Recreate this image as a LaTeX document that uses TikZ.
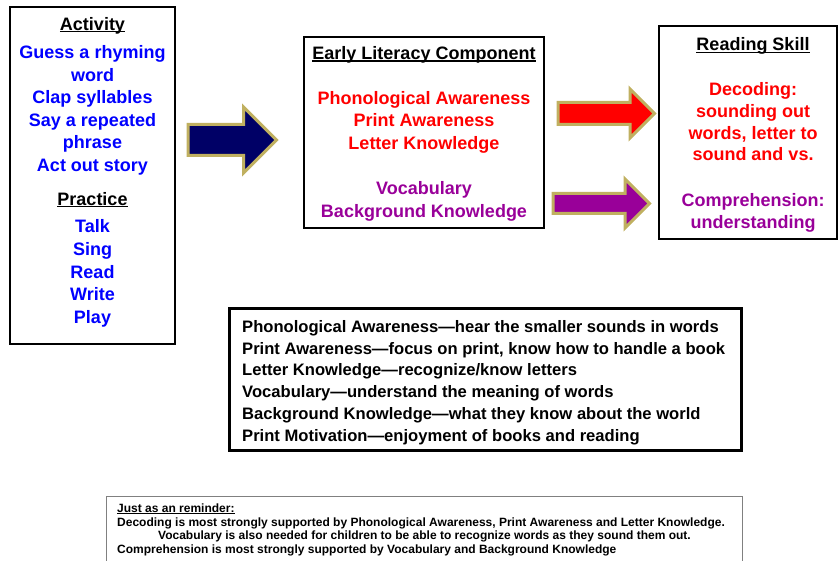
\documentclass[tikz,border=0pt]{standalone}
\usepackage{fontspec}
\setmainfont{Liberation Sans}
\usepackage{xcolor}
\usepackage{tikz}
\usetikzlibrary{positioning,shapes.arrows}

\definecolor{navyfill}{HTML}{000066}
\definecolor{arrowrim}{HTML}{C0B060}
\definecolor{litblue}{HTML}{0000FF}
\definecolor{litred}{HTML}{FF0000}
\definecolor{litpurple}{HTML}{990099}
\definecolor{remindgray}{HTML}{808080}

\newcommand{\ulhead}[1]{\setbox0\hbox{#1}\rlap{\rule[-0.12em]{\wd0}{0.075em}}\box0}

\begin{document}
\begin{tikzpicture}[x=1pt,y=-1pt,
    box/.style={draw=black, line width=2pt, inner sep=0pt},
    txt/.style={inner sep=0pt, align=center, font=\fontsize{18}{22.5}\selectfont\bfseries},
    blockarrow/.style={single arrow, draw=arrowrim, line width=3pt, inner xsep=0pt,
        single arrow tip angle=90, single arrow head indent=0pt, anchor=tail}]
    \clip (0,0) rectangle (840,561);

    % Boxes
    \node[box, minimum width=165, minimum height=337] (activity) at (92.5,175.5) {};
    \node[box, minimum width=240, minimum height=191] (component) at (424,132.5) {};
    \node[box, minimum width=178, minimum height=213] (skill) at (748,132.5) {};
    \node[box, line width=3pt, minimum width=512, minimum height=142] (defs) at (485.5,379.5) {};
    \node[draw=remindgray, line width=1pt, inner sep=0pt, anchor=north west,
        minimum width=636, minimum height=90] (reminder) at (105.5,495.5) {};

    % Block arrows (shaft width = 2 x inner ysep)
    \node[blockarrow, fill=navyfill, minimum height=88.5, inner ysep=14pt,
        single arrow head extend=17.5] (toComponent) at (186.5,140) {};
    \node[blockarrow, fill=litred, minimum height=96.5, inner ysep=9.5pt,
        single arrow head extend=13.5] (toDecoding) at (556.5,113.5) {};
    \node[blockarrow, fill=litpurple, minimum height=96.5, inner ysep=8.5pt,
        single arrow head extend=14.5] (toComprehension) at (551.5,203.5) {};

    % Activity and practice (anchored at the last line)
    \node[txt, text=litblue, anchor=base] (activitytxt) at (92.5,323) {%
        \textcolor{black}{\ulhead{Activity}}\\[6.5pt]
        Guess a rhyming\\ word\\ Clap syllables\\ Say a repeated\\ phrase\\ Act out story\\[11pt]
        \textcolor{black}{\ulhead{Practice}}\\[5.5pt]
        Talk\\ Sing\\ Read\\ Write\\ Play};

    % Early literacy components
    \node[txt, anchor=base] (componenttxt) at (424,217.5) {%
        \ulhead{Early Literacy Component}\\[22.5pt]
        \textcolor{litred}{Phonological Awareness}\\
        \textcolor{litred}{Print Awareness}\\
        \textcolor{litred}{Letter Knowledge}\\[23pt]
        \textcolor{litpurple}{Vocabulary}\\
        \textcolor{litpurple}{Background Knowledge}};

    % Reading skills
    \node[txt, font=\fontsize{18}{21.8}\selectfont\bfseries, anchor=base] (skilltxt) at (753,228.5) {%
        \ulhead{Reading Skill}\\[22.7pt]
        \textcolor{litred}{Decoding:}\\
        \textcolor{litred}{sounding out}\\
        \textcolor{litred}{words, letter to}\\
        \textcolor{litred}{sound and vs.}\\[24pt]
        \textcolor{litpurple}{Comprehension:}\\
        \textcolor{litpurple}{understanding}};

    % Definitions
    \node[txt, align=left, font=\fontsize{16.6}{21.7}\selectfont\bfseries, anchor=base west] (defstxt) at (242,441) {%
        Phonological Awareness—hear the smaller sounds in words\\
        Print Awareness—focus on print, know how to handle a book\\
        Letter Knowledge—recognize/know letters\\
        Vocabulary—understand the meaning of words\\
        Background Knowledge—what they know about the world\\
        Print Motivation—enjoyment of books and reading};

    % Reminder
    \node[txt, align=left, font=\fontsize{12}{13.4}\selectfont\bfseries, anchor=base west] (remindertxt) at (117,553) {%
        \ulhead{Just as an reminder:}\\
        Decoding is most strongly supported by Phonological Awareness, Print Awareness and Letter Knowledge.\\
        \hspace*{41pt}Vocabulary is also needed for children to be able to recognize words as they sound them out.\\
        Comprehension is most strongly supported by Vocabulary and Background Knowledge};
\end{tikzpicture}
\end{document}
